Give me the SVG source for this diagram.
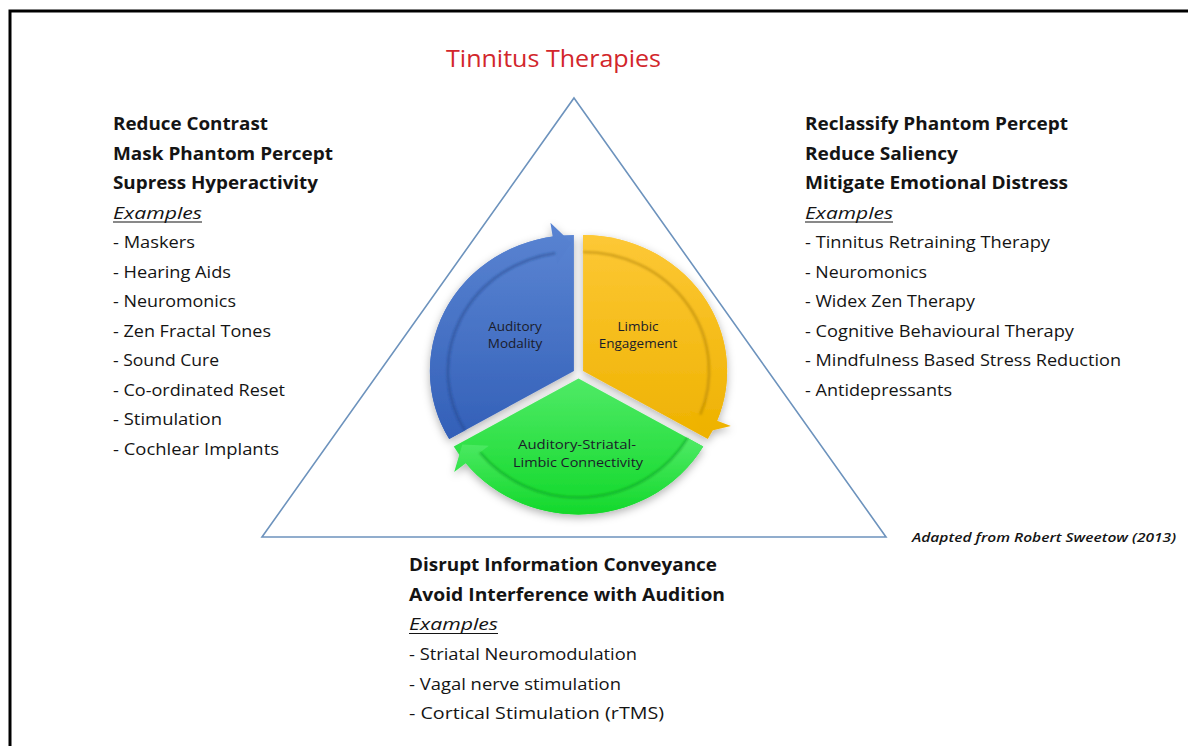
<svg xmlns="http://www.w3.org/2000/svg" width="1188" height="746" viewBox="0 0 1188 746">
  <style>
    text { font-family: "Open Sans", "Liberation Sans", sans-serif; fill: #141414; }
    .title { font-size: 23px; fill: #d2262b; }
    .head { font-size: 17px; font-weight: bold; }
    .ex { font-size: 17px; font-style: italic; }
    .item { font-size: 15.5px; }
    .seg { font-size: 13.5px; fill: #1a1c2a; text-anchor: middle; }
    .note { font-size: 13px; font-style: italic; font-weight: 600; }
    .ul { stroke: #141414; stroke-width: 1.2; }
    .tri { fill: none; stroke: #6d93bd; stroke-width: 1.6; }
    .shade { fill: none; stroke-width: 2.5; stroke-opacity: 0.45; }
  </style>
  <defs>
    <linearGradient id="gBlue" x1="0" y1="0" x2="0" y2="1">
      <stop offset="0" stop-color="#5a84d2"/>
      <stop offset="1" stop-color="#3360b8"/>
    </linearGradient>
    <linearGradient id="gYellow" x1="0" y1="0" x2="0" y2="1">
      <stop offset="0" stop-color="#fdc836"/>
      <stop offset="1" stop-color="#eeb200"/>
    </linearGradient>
    <linearGradient id="gGreen" x1="0" y1="0" x2="0" y2="1">
      <stop offset="0" stop-color="#4fea66"/>
      <stop offset="1" stop-color="#12d82a"/>
    </linearGradient>
    <filter id="drop" x="-20%" y="-20%" width="140%" height="140%">
      <feDropShadow dx="0" dy="3" stdDeviation="4" flood-color="#000" flood-opacity="0.3"/>
    </filter>
    <filter id="soft" x="-10%" y="-10%" width="120%" height="120%">
      <feGaussianBlur stdDeviation="1.2"/>
    </filter>
  </defs>

  <rect width="1188" height="746" fill="#ffffff"/>
  <!-- page frame: left and top edges only -->
  <path d="M10,746 V11 H1188" fill="none" stroke="#000" stroke-width="3"/>

  <text class="title" x="446" y="67" textLength="215" lengthAdjust="spacingAndGlyphs">Tinnitus Therapies</text>

  <polygon class="tri" points="574,98 886,537 262,537"/>

  <!-- three-part cycle: pie wedge plus curved arrow band on each -->
  <g id="cycle" transform="translate(578.5,373.5) scale(1.059,1)" filter="url(#drop)">
    <g id="auditory-modality" transform="translate(-4.33,-2.5)">
      <path d="M0,0 L-117.78,68 A136,136 0 0 1 0,-136 Z" fill="url(#gBlue)"/>
      <path d="M-117.78,68 A136,136 0 0 1 -20.1,-134.5 L-22.17,-148.35 L-2.23,-127.98 L-15.96,-106.81 L-17.59,-117.69 A119,119 0 0 0 -103.06,59.5 Z" fill="url(#gBlue)"/>
      <path class="shade" d="M-103.06,59.5 A119,119 0 0 1 -17.59,-117.69" stroke="#1f3f80" filter="url(#soft)"/>
    </g>
    <g id="limbic-engagement" transform="translate(4.33,-2.5)">
      <path d="M0,0 L0,-136 A136,136 0 0 1 117.78,68 Z" fill="url(#gYellow)"/>
      <path d="M0,-136 A136,136 0 0 1 126.53,49.84 L139.56,54.98 L111.95,62.05 L100.48,39.58 L110.72,43.61 A119,119 0 0 0 0,-119 Z" fill="url(#gYellow)"/>
      <path class="shade" d="M0,-119 A119,119 0 0 1 110.72,43.61" stroke="#a07400" filter="url(#soft)"/>
    </g>
    <g id="connectivity" transform="translate(0,5)">
      <path d="M0,0 L117.78,68 A136,136 0 0 1 -117.78,68 Z" fill="url(#gGreen)"/>
      <path d="M117.78,68 A136,136 0 0 1 -106.43,84.66 L-117.39,93.38 L-109.72,65.92 L-84.52,67.23 L-93.13,74.08 A119,119 0 0 0 103.06,59.5 Z" fill="url(#gGreen)"/>
      <path class="shade" d="M103.06,59.5 A119,119 0 0 1 -93.13,74.08" stroke="#0a8a1a" filter="url(#soft)"/>
    </g>
  </g>

  <g id="cycle-labels">
    <text class="seg" x="515" y="331">Auditory</text>
    <text class="seg" x="515" y="348">Modality</text>
    <text class="seg" x="638" y="331">Limbic</text>
    <text class="seg" x="638" y="348">Engagement</text>
    <text class="seg" x="577" y="449" textLength="118" lengthAdjust="spacingAndGlyphs">Auditory-Striatal-</text>
    <text class="seg" x="578" y="467" textLength="130" lengthAdjust="spacingAndGlyphs">Limbic Connectivity</text>
  </g>

  <!-- left block -->
  <g id="auditory-therapies">
    <text class="head" x="113" y="130" textLength="155" lengthAdjust="spacingAndGlyphs">Reduce Contrast</text>
    <text class="head" x="113" y="159.5" textLength="220" lengthAdjust="spacingAndGlyphs">Mask Phantom Percept</text>
    <text class="head" x="113" y="189" textLength="205" lengthAdjust="spacingAndGlyphs">Supress Hyperactivity</text>
    <text class="ex" x="113" y="218.5" textLength="89" lengthAdjust="spacingAndGlyphs">Examples</text>
    <line class="ul" x1="113" y1="222" x2="202" y2="222"/>
    <text class="item" x="113" y="248" textLength="82" lengthAdjust="spacingAndGlyphs">- Maskers</text>
    <text class="item" x="113" y="277.5" textLength="118" lengthAdjust="spacingAndGlyphs">- Hearing Aids</text>
    <text class="item" x="113" y="307" textLength="123" lengthAdjust="spacingAndGlyphs">- Neuromonics</text>
    <text class="item" x="113" y="336.5" textLength="158" lengthAdjust="spacingAndGlyphs">- Zen Fractal Tones</text>
    <text class="item" x="113" y="366" textLength="106" lengthAdjust="spacingAndGlyphs">- Sound Cure</text>
    <text class="item" x="113" y="395.5" textLength="172" lengthAdjust="spacingAndGlyphs">- Co-ordinated Reset</text>
    <text class="item" x="113" y="425" textLength="109" lengthAdjust="spacingAndGlyphs">- Stimulation</text>
    <text class="item" x="113" y="454.5" textLength="166" lengthAdjust="spacingAndGlyphs">- Cochlear Implants</text>
  </g>

  <!-- right block -->
  <g id="limbic-therapies">
    <text class="head" x="805" y="130" textLength="263" lengthAdjust="spacingAndGlyphs">Reclassify Phantom Percept</text>
    <text class="head" x="805" y="159.5" textLength="153" lengthAdjust="spacingAndGlyphs">Reduce Saliency</text>
    <text class="head" x="805" y="189" textLength="263" lengthAdjust="spacingAndGlyphs">Mitigate Emotional Distress</text>
    <text class="ex" x="805" y="218.5" textLength="88" lengthAdjust="spacingAndGlyphs">Examples</text>
    <line class="ul" x1="805" y1="222" x2="893" y2="222"/>
    <text class="item" x="805" y="248" textLength="245" lengthAdjust="spacingAndGlyphs">- Tinnitus Retraining Therapy</text>
    <text class="item" x="805" y="277.5" textLength="122" lengthAdjust="spacingAndGlyphs">- Neuromonics</text>
    <text class="item" x="805" y="307" textLength="170" lengthAdjust="spacingAndGlyphs">- Widex Zen Therapy</text>
    <text class="item" x="805" y="336.5" textLength="269" lengthAdjust="spacingAndGlyphs">- Cognitive Behavioural Therapy</text>
    <text class="item" x="805" y="366" textLength="316" lengthAdjust="spacingAndGlyphs">- Mindfulness Based Stress Reduction</text>
    <text class="item" x="805" y="395.5" textLength="147" lengthAdjust="spacingAndGlyphs">- Antidepressants</text>
  </g>

  <!-- bottom block -->
  <g id="connectivity-therapies">
    <text class="head" x="409" y="571" textLength="308" lengthAdjust="spacingAndGlyphs">Disrupt Information Conveyance</text>
    <text class="head" x="409" y="600.5" textLength="316" lengthAdjust="spacingAndGlyphs">Avoid Interference with Audition</text>
    <text class="ex" x="409" y="630" textLength="89" lengthAdjust="spacingAndGlyphs">Examples</text>
    <line class="ul" x1="409" y1="633.5" x2="498" y2="633.5"/>
    <text class="item" x="409" y="660" textLength="228" lengthAdjust="spacingAndGlyphs">- Striatal Neuromodulation</text>
    <text class="item" x="409" y="689.5" textLength="212" lengthAdjust="spacingAndGlyphs">- Vagal nerve stimulation</text>
    <text class="item" x="409" y="719" textLength="255" lengthAdjust="spacingAndGlyphs">- Cortical Stimulation (rTMS)</text>
  </g>

  <text class="note" x="912" y="542" textLength="264" lengthAdjust="spacingAndGlyphs">Adapted from Robert Sweetow (2013)</text>
</svg>
